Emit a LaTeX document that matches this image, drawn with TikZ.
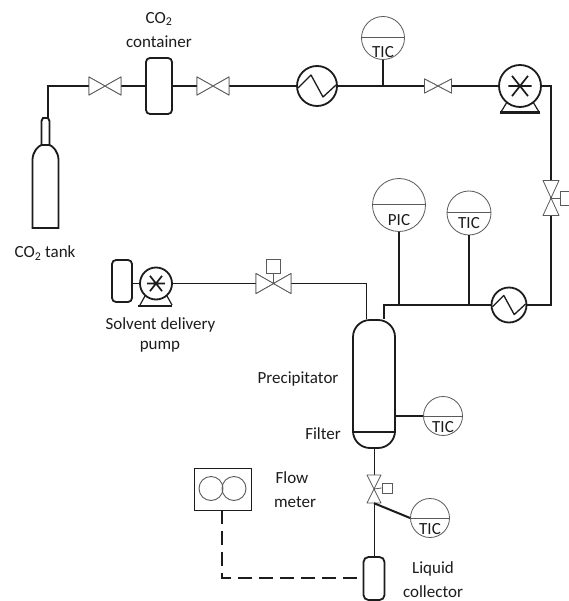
\documentclass[tikz,border=0pt]{standalone}
\usepackage{fontspec}
\setmainfont{Carlito}
\definecolor{ink}{HTML}{1C1C1C}
\definecolor{soft}{HTML}{5A5A5A}
\tikzset{
  x=1pt,y=-1pt,
  pipe/.style={draw=ink,line width=1.6pt},
  thin pipe/.style={draw=ink,line width=0.9pt},
  fat pipe/.style={draw=ink,line width=2.8pt},
  body/.style={draw=ink,line width=1.8pt,fill=white,inner sep=0pt},
  gauge/.style={circle,draw=soft,line width=0.8pt,fill=white,inner sep=0pt},
  chord/.style={draw=soft,line width=1pt},
  lbl/.style={font=\fontsize{17}{19}\selectfont,text=ink,inner sep=0pt},
  gaugetext/.style={font=\fontsize{17}{19}\selectfont,text=ink,inner sep=0pt},
  hvalve/.pic={
    \node[inner sep=0pt,minimum width=2*\hw,minimum height=2*\hh] (-c) {};
    \draw[draw=soft,line width=0.8pt,fill=white,line join=round] (-\hw,-\hh) -- (\hw,\hh) -- (\hw,-\hh) -- (-\hw,\hh) -- cycle;
  },
  vvalve/.pic={
    \node[inner sep=0pt,minimum width=2*\hh,minimum height=2*\hw] (-c) {};
    \draw[draw=soft,line width=0.8pt,fill=white,line join=round] (-\hh,-\hw) -- (\hh,\hw) -- (-\hh,\hw) -- (\hh,-\hw) -- cycle;
  },
  hxzig/.pic={
    \draw[draw=ink,line width=1.3pt,line join=round] (-\hw,2*\hw/19) -- (-6*\hw/19,-11*\hw/19) -- (6*\hw/19,11*\hw/19) -- (\hw,-\hw/19);
  },
  pumpx/.pic={
    \draw[draw=ink,line width=1.7pt] (-0.55*\hw,0) -- (0.55*\hw,0) (-0.38*\hw,-0.48*\hw) -- (0.38*\hw,0.48*\hw) (-0.38*\hw,0.48*\hw) -- (0.38*\hw,-0.48*\hw);
  },
}
\newcommand{\hw}{16}
\newcommand{\hh}{9}
\begin{document}
\begin{tikzpicture}
\useasboundingbox[fill=white] (0,0) rectangle (568,601);

% ---- nodes ----
\coordinate (tanktop) at (45.5,118);
\coordinate (corner1) at (48,86);
\node[body,minimum width=26pt,minimum height=56pt,rounded corners=4pt] (cont) at (159,86) {};
\pic (v1) at (105,86) {hvalve};
\pic (v2) at (213,86) {hvalve};
\renewcommand{\hw}{13.5}\renewcommand{\hh}{7}
\pic (v3) at (438,86) {hvalve};
\renewcommand{\hw}{17.5}\renewcommand{\hh}{10}
\pic (v5) at (273.5,283.5) {hvalve};

\node[circle,body,minimum size=40pt] (hx1) at (317,86) {};
\node[circle,body,minimum size=42pt] (pump1) at (520,86) {};
\node[circle,body,minimum size=35pt] (hx2) at (509,305) {};
\node[circle,body,minimum size=32pt] (pump2) at (156,283.5) {};

\node[gauge,minimum size=43pt] (tic1) at (383,38) {};
\node[gauge,minimum size=53pt] (pic) at (399,205) {};
\node[gauge,minimum size=44pt] (tic2) at (469,213) {};
\node[gauge,minimum size=39pt] (tic3) at (443,416) {};
\node[gauge,minimum size=39pt] (tic4) at (430,518) {};

\node[body,minimum width=42pt,minimum height=128pt,rounded corners=17pt] (prec) at (374,384) {};
\node[body,minimum width=21pt,minimum height=43pt,rounded corners=5pt] (coll) at (374,578.5) {};
\node[body,minimum width=20pt,minimum height=42pt,rounded corners=4pt] (solv) at (122,281) {};
\node[draw=ink,line width=0.9pt,inner sep=0pt,minimum width=57pt,minimum height=42pt] (fm) at (222.5,489) {};
\coordinate (j1) at (384,305);
\coordinate (j2) at (399,305);
\coordinate (j3) at (469,305);
\coordinate (j4) at (383,86);
\coordinate (c2) at (551,86);
\coordinate (c3) at (551,305);
\coordinate (c4) at (366,283.5);
\coordinate (dashc) at (222,578);

% ---- connectors ----
\draw[pipe] (tanktop -| corner1) -- (corner1) -- (v1-c.west);
\draw[pipe] (v1-c.east) -- (cont.west);
\draw[pipe] (cont.east) -- (v2-c.west);
\draw[pipe] (v2-c.east) -- (hx1.west);
\draw[pipe] (hx1.east) -- (v3-c.west);
\draw[pipe] (v3-c.east) -- (pump1.west);
\draw[pipe] (tic1.south) -- (j4);
\draw[fat pipe,line join=miter] (pump1.east) -- (c2) -- (c3) -- (hx2.east);
\draw[fat pipe,line join=miter] (hx2.west) -- (j1) -- (j1 |- prec.north);
\draw[fat pipe] (pic.south) -- (j2);
\draw[pipe] (tic2.south) -- (j3);
\draw[fat pipe] (prec.east |- tic3) -- (tic3.west);
\draw[thin pipe] (pump2.east) -- (v5-c.west);
\draw[thin pipe] (v5-c.east) -- (c4) -- (c4 |- prec.north);
\draw[thin pipe] (prec.south) -- (coll.north);
\draw[draw=ink,line width=1.8pt,dash pattern=on 14pt off 7pt] (fm.south -| dashc) -- (dashc) -- (coll.west |- dashc);
\draw[pipe] (solv.east |- pump2) -- (pump2.west);

% ---- symbols on top of the lines ----
\renewcommand{\hw}{16}\renewcommand{\hh}{9}
\pic at (105,86) {hvalve};
\pic at (213,86) {hvalve};
\renewcommand{\hw}{13.5}\renewcommand{\hh}{7}
\pic at (438,86) {hvalve};
\renewcommand{\hw}{17.5}\renewcommand{\hh}{10}
\pic at (273.5,283.5) {hvalve};
\renewcommand{\hw}{17.5}\renewcommand{\hh}{8}
\pic (v4) at (551,198) {vvalve};
\renewcommand{\hw}{14}\renewcommand{\hh}{7}
\pic (v6) at (374,489) {vvalve};

% actuators
\node[draw=soft,line width=0.8pt,inner sep=0pt,minimum size=14pt,fill=white] (a5) at (273.5,266) {};
\draw[draw=soft,line width=0.8pt] (a5.south) -- (v5-c.center);
\node[draw=soft,line width=0.8pt,inner sep=0pt,minimum width=12pt,minimum height=14pt,fill=white,anchor=west] (a4) at (560,198) {};
\draw[draw=soft,line width=0.8pt] (a4.west) -- (v4-c.center);
\node[draw=soft,line width=0.8pt,inner sep=0pt,minimum size=10pt,fill=white] (a6) at (387,488) {};
\draw[draw=soft,line width=0.8pt] (a6.west) -- (v6-c.center);

% instrument chords and stem
\draw[chord] (tic1.west) -- (tic1.east);
\draw[chord] (pic.west) -- (pic.east);
\draw[chord] (tic2.west) -- (tic2.east);
\draw[chord] (tic3.west) -- (tic3.east);
\draw[chord] (tic4.west) -- (tic4.east);
\draw[draw=ink,line width=2pt] (v6-c.south) -- (tic4.west);

\node[gaugetext] at (383,52) {TIC};
\node[gaugetext] at (399,220) {PIC};
\node[gaugetext] at (469,223) {TIC};
\node[gaugetext] at (443,427) {TIC};
\node[gaugetext] at (430,529) {TIC};

% heat exchanger and pumps
\renewcommand{\hw}{19}
\pic at (317,86) {hxzig};
\renewcommand{\hw}{16.5}
\pic at (509,305) {hxzig};
\renewcommand{\hw}{21}
\pic at (520,86) {pumpx};
\renewcommand{\hw}{16}
\pic at (156,283.5) {pumpx};
\draw[draw=ink,line width=1.2pt] (507,102) -- (501,112) (533,102) -- (539,112);
\draw[draw=ink,line width=2.4pt] (500,112.5) -- (540,112.5);
\draw[draw=ink,line width=1.2pt] (145,296) -- (140,305) (167,296) -- (172,305);
\draw[draw=ink,line width=2pt] (138,305.5) -- (172,305.5);

% gas tank
\draw[body] (41.5,145) -- (41.5,121) -- (43,118) -- (48,118) -- (49.5,121) -- (49.5,145);
\draw[body] (32.5,228) -- (32.5,160) .. controls (32.5,152) and (38,146) .. (41.5,145) -- (49.5,145) .. controls (53,146) and (58.5,152) .. (58.5,160) -- (58.5,228) -- cycle;

% precipitator filter line
\draw[draw=ink,line width=1.7pt] (prec.west |- 0,432) -- (prec.east |- 0,432);

% flow meter
\node[circle,draw=soft,line width=0.9pt,minimum size=24pt,inner sep=0pt] (fm1) at (211,488.5) {};
\node[circle,draw=soft,line width=0.9pt,minimum size=24pt,inner sep=0pt] (fm2) at (234,488.5) {};

% labels
\node[lbl] (t1) at (159,19) {CO\textsubscript{2}};
\node[lbl] (t2) at (159,42) {container};
\node[lbl] (t3) at (45,253) {CO\textsubscript{2} tank};
\node[lbl] (t4) at (160.5,325) {Solvent delivery};
\node[lbl] (t5) at (160,347) {pump};
\node[lbl] (t6) at (298,379) {Precipitator};
\node[lbl] (t7) at (323,434) {Filter};
\node[lbl] (t8) at (292,478) {Flow};
\node[lbl] (t9) at (295,502) {meter};
\node[lbl] (t10) at (433,569) {Liquid};
\node[lbl] (t11) at (433,592) {collector};
\end{tikzpicture}
\end{document}
